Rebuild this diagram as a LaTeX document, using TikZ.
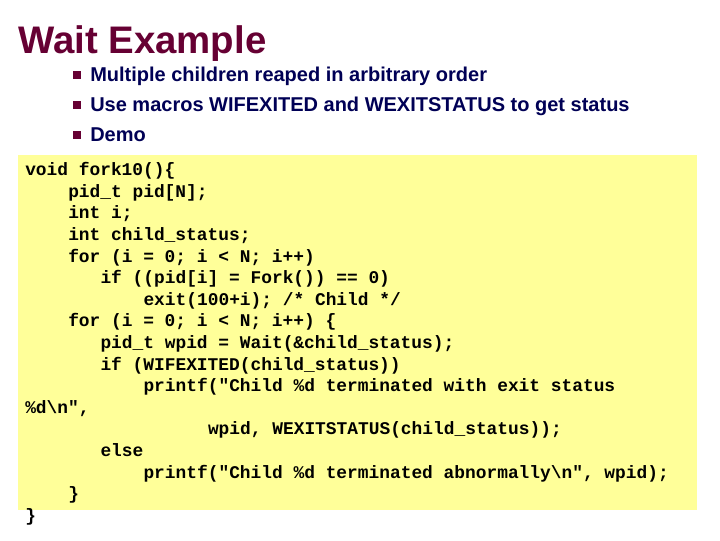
\documentclass[tikz,border=0pt]{standalone}
\usepackage{fontspec}
\setmainfont{Liberation Sans}
\newfontfamily\codefont{Liberation Mono}
\definecolor{ttl}{HTML}{660033}
\definecolor{txt}{HTML}{000055}
\definecolor{bx}{HTML}{FFFF99}
\begin{document}
\begin{tikzpicture}[x=0.75pt,y=-0.75pt,
  bul/.style={anchor=base west,inner sep=0pt,font=\bfseries\fontsize{15}{17}\selectfont,text=txt},
  sq/.style={fill=ttl,minimum size=6pt,inner sep=0pt},
  code/.style={anchor=base west,inner sep=0pt,font=\codefont\bfseries\fontsize{13.4}{16}\selectfont}]
\useasboundingbox (0,0) rectangle (720,540);
\fill[bx] (18,155) rectangle (697,510);
\node[anchor=base west,inner sep=0pt,text=ttl,font=\bfseries\fontsize{28.8}{32}\selectfont] (title) at (18,53) {Wait Example};
\foreach \t [count=\i] in {Multiple children reaped in arbitrary order,Use macros WIFEXITED and WEXITSTATUS to get status,Demo}{
  \node[sq] (s\i) at (77,45+30*\i) {};
  \node[bul] (b\i) at (90,51+30*\i) {\t};
}
\def\L#1#2#3{\node[code] (c#1) at (25+10.75*#2,154+21.6*#1) {\obeyspaces#3};}
\L{1}{0}{void fork10()\{}
\L{2}{4}{pid\_t pid[N];}
\L{3}{4}{int i;}
\L{4}{4}{int child\_status;}
\L{5}{4}{for (i = 0; i < N; i++)}
\L{6}{7}{if ((pid[i] = Fork()) == 0)}
\L{7}{11}{exit(100+i); /* Child */}
\L{8}{4}{for (i = 0; i < N; i++) \{}
\L{9}{7}{pid\_t wpid = Wait(\&child\_status);}
\L{10}{7}{if (WIFEXITED(child\_status))}
\L{11}{11}{printf("Child \%d terminated with exit status}
\L{12}{0}{\%d\textbackslash n",}
\L{13}{17}{wpid, WEXITSTATUS(child\_status));}
\L{14}{7}{else}
\L{15}{11}{printf("Child \%d terminated abnormally\textbackslash n", wpid);}
\L{16}{4}{\}}
\L{17}{0}{\}}
\end{tikzpicture}
\end{document}
